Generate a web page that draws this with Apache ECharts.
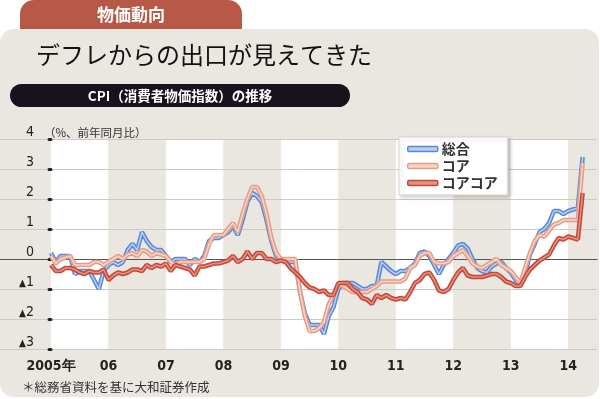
<!DOCTYPE html>
<html>
<head>
<meta charset="utf-8">
<script src="https://cdn.jsdelivr.net/npm/echarts@6/dist/echarts.min.js"></script>
<style>
html, body { margin: 0; padding: 0; background: #fff; }
#chart { width: 600px; height: 399px; }
</style>
</head>
<body>
<div id="chart"></div>
<script>
// 月次データ 2005年1月〜2014年4月 (%, 前年同月比)
const yearLabels = ['2005年', '06', '07', '08', '09', '10', '11', '12', '13', '14'];
const yTicks = [-3, -2, -1, 0, 1, 2, 3, 4];

const sogo = [
  0.2, -0.1, 0.1, 0.1, 0.1, -0.5, -0.4, -0.4, -0.4, -0.7, -1.0, -0.4,
  -0.2, -0.1, -0.2, -0.1, 0.3, 0.5, 0.3, 0.9, 0.6, 0.4, 0.3, 0.3,
  0.1, -0.1, 0.0, 0.0, 0.0, -0.2, 0.0, -0.1, 0.1, 0.6, 0.7, 0.7,
  0.8, 0.9, 1.1, 0.8, 1.3, 1.9, 2.2, 2.1, 1.9, 1.3, 0.6, 0.1,
  0.0, -0.1, -0.1, -0.1, -1.1, -1.8, -2.2, -2.2, -2.2, -2.5, -1.9, -1.6,
  -1.0, -0.8, -0.8, -0.8, -0.9, -1.0, -1.0, -0.9, -0.9, -0.1, -0.25, -0.4,
  -0.5, -0.4, -0.4, -0.3, -0.15, 0.2, 0.25, 0.1, -0.2, -0.5, -0.2, 0.0,
  0.2, 0.45, 0.5, 0.35, 0.0, -0.3, -0.4, -0.45, -0.25, -0.15, -0.1, -0.3,
  -0.45, -0.7, -0.9, -0.5, 0.15, 0.5, 0.9, 1.0, 1.2, 1.6, 1.6, 1.5,
  1.6, 1.65, 1.7, 3.4
];
const core = [
  0.1, -0.15, 0.0, 0.05, 0.1, -0.2, -0.2, -0.2, -0.2, -0.1, -0.1, -0.2,
  -0.1, 0.0, 0.1, 0.0, 0.15, 0.2, 0.1, 0.3, 0.25, 0.1, 0.2, 0.15,
  0.1, -0.1, -0.2, -0.1, -0.1, -0.1, -0.1, -0.1, 0.0, 0.5, 0.8, 0.8,
  0.8, 1.0, 1.2, 0.9, 1.5, 2.0, 2.4, 2.4, 2.1, 1.5, 0.7, 0.2,
  0.0, 0.0, 0.0, 0.0, -1.1, -1.9, -2.4, -2.4, -2.3, -2.1, -1.5, -1.2,
  -0.85, -0.9, -1.0, -1.1, -1.1, -1.1, -1.1, -1.0, -0.9, -0.75, -0.75, -0.75,
  -0.75, -0.75, -0.65, -0.3, -0.2, 0.1, 0.2, 0.2, -0.1, -0.15, -0.15, -0.1,
  0.1, 0.2, 0.3, 0.1, -0.15, -0.25, -0.3, -0.2, -0.1, 0.0, -0.2, -0.3,
  -0.4, -0.6, -0.8, -0.3, 0.2, 0.6, 0.8, 0.75, 0.95, 1.15, 1.2, 1.3,
  1.3, 1.3, 1.3, 3.2
];
const coreCore = [
  -0.2, -0.4, -0.4, -0.3, -0.3, -0.35, -0.45, -0.5, -0.4, -0.45, -0.45, -0.35,
  -0.7, -0.55, -0.45, -0.5, -0.45, -0.35, -0.35, -0.4, -0.2, -0.3, -0.2, -0.25,
  -0.15, -0.4, -0.2, -0.25, -0.3, -0.35, -0.55, -0.25, -0.25, -0.2, -0.15, -0.15,
  -0.1, -0.05, 0.1, -0.1, 0.0, 0.25, 0.0, 0.2, 0.2, 0.0, 0.0, -0.1,
  -0.05, -0.1, -0.3, -0.45, -0.6, -0.8, -0.95, -1.0, -1.1, -1.05, -1.2, -1.2,
  -0.8, -0.8, -0.8, -1.0, -1.1, -1.3, -1.35, -1.5, -1.2, -1.3, -1.2, -1.3,
  -1.35, -1.3, -1.35, -1.1, -0.8, -0.7, -0.5, -0.45, -0.7, -1.05, -1.1, -1.0,
  -0.7, -0.45, -0.3, -0.55, -0.6, -0.6, -0.6, -0.55, -0.5, -0.5, -0.6, -0.75,
  -0.8, -0.9, -0.9, -0.6, -0.35, -0.2, -0.05, 0.05, 0.15, 0.45, 0.7, 0.65,
  0.75, 0.7, 0.65, 2.2
];

const BG = '#EAE6E0';
const JP = "'Noto Sans CJK JP', sans-serif";
const NARROW = "'Liberation Sans Narrow', 'DejaVu Sans Condensed', sans-serif";

const colors = {
  '総合': ['#5A88D6', '#B9CEF1'],
  'コア': ['#E39C87', '#F7D5C7'],
  'コアコア': ['#C4483A', '#E6907F'],
};

const toPairs = arr => arr.map((v, i) => [i, v]);

// 二重線: 太い濃色の上に細い淡色を重ねる
function doubleLine(name, data) {
  const [outer, inner] = colors[name];
  return [
    { name, type: 'line', data: toPairs(data), symbol: 'none', color: outer,
      lineStyle: { color: outer, width: 4.5 }, z: 3, silent: true },
    { name, type: 'line', data: toPairs(data), symbol: 'none', color: outer,
      lineStyle: { color: inner, width: 1.5 }, z: 3, silent: true },
  ];
}

const chart = echarts.init(document.getElementById('chart'));
chart.setOption({
  animation: false,
  backgroundColor: '#fff',
  graphic: [
    { type: 'rect', z: -2, shape: { x: 20, y: 0, width: 222, height: 34, r: [14, 14, 0, 0] },
      style: { fill: '#B85947' } },
    { type: 'rect', z: -1, shape: { x: 0, y: 29, width: 599, height: 368, r: 14 },
      style: { fill: BG } },
    { type: 'text', z: 10, x: 131, y: 15,
      style: { text: '物価動向', fill: '#fff', font: `bold 17px ${JP}`, align: 'center', verticalAlign: 'middle' } },
    { type: 'text', z: 10, x: 36, y: 55,
      style: { text: 'デフレからの出口が見えてきた', fill: '#111', font: `24px ${JP}`, verticalAlign: 'middle' } },
    { type: 'rect', z: 10, shape: { x: 10, y: 84, width: 340, height: 23, r: 11.5 },
      style: { fill: '#17121C' } },
    { type: 'text', z: 11, x: 180, y: 96,
      style: { text: 'CPI（消費者物価指数）の推移', fill: '#fff', font: `bold 13.5px ${JP}`, align: 'center', verticalAlign: 'middle' } },
    { type: 'text', z: 10, x: 44, y: 133,
      style: { text: '（%、前年同月比）', fill: '#333', font: `11.5px ${JP}`, verticalAlign: 'middle' } },
    { type: 'text', z: 10, x: 22, y: 387,
      style: { text: '＊総務省資料を基に大和証券作成', fill: '#333', font: `12.5px ${JP}`, verticalAlign: 'middle' } },
  ],
  legend: {
    orient: 'vertical', left: 399, top: 137,
    padding: [5, 10, 5, 8], itemGap: 3, itemWidth: 30, itemHeight: 5,
    backgroundColor: '#fff', borderColor: '#d9d5cf', borderWidth: 1,
    shadowColor: 'rgba(0,0,0,0.18)', shadowBlur: 4, shadowOffsetX: 2, shadowOffsetY: 2,
    textStyle: { fontFamily: JP, fontSize: 14, fontWeight: 'bold', color: '#333', padding: [0, 0, 0, -1] },
    data: Object.keys(colors).map(name => ({
      name, icon: 'roundRect',
      itemStyle: { color: colors[name][1], borderColor: colors[name][0], borderWidth: 1.5 },
    })),
  },
  grid: [
    { left: 51, right: 3, top: 139, bottom: 50 },
    { left: 0, right: 3, top: 139, bottom: 50 },
  ],
  xAxis: [
    {
      gridIndex: 0, type: 'value', min: 0, max: 114, interval: 12, z: 0,
      splitArea: { show: true, areaStyle: { color: ['#fff', BG] } },
      splitLine: { show: false }, axisLine: { show: false }, axisTick: { show: false },
      axisLabel: {
        margin: 10, fontSize: 14, fontWeight: 'bold', color: '#222', fontFamily: NARROW, showMaxLabel: false,
        formatter: v => yearLabels[v / 12] || '',
      },
    },
    {
      gridIndex: 1, type: 'value', min: 0, max: 1, z: 1,
      axisLine: { show: true, onZero: true, lineStyle: { color: '#555', width: 1 } },
      axisTick: { show: false }, axisLabel: { show: false }, splitLine: { show: false },
    },
  ],
  yAxis: [
    {
      gridIndex: 0, type: 'value', min: yTicks[0], max: yTicks[yTicks.length - 1], interval: 1,
      offset: 9, z: 2,
      splitLine: { show: false },
      axisLine: { show: true, lineStyle: { color: 'rgba(0,0,0,0)', width: 0 } },
      axisTick: { show: true, inside: false, length: 2, lineStyle: { color: '#222', width: 3, cap: 'round' } },
      axisLabel: {
        margin: 8, verticalAlign: 'bottom', fontSize: 14, color: '#222', fontFamily: NARROW,
        formatter: v => (v < 0 ? '{t|▲}' + (-v) : String(v)),
        rich: { t: { fontSize: 10, color: '#222', verticalAlign: 'bottom', padding: [0, 0, 1, 0] } },
      },
    },
    {
      gridIndex: 1, type: 'value', min: yTicks[0], max: yTicks[yTicks.length - 1], interval: 1, z: 1,
      axisLine: { show: false }, axisTick: { show: false }, axisLabel: { show: false },
      splitLine: { show: true, lineStyle: { color: '#CDC9C3', width: 1 } },
    },
  ],
  series: [
    ...doubleLine('総合', sogo),
    ...doubleLine('コア', core),
    ...doubleLine('コアコア', coreCore),
  ],
});
</script>
</body>
</html>
